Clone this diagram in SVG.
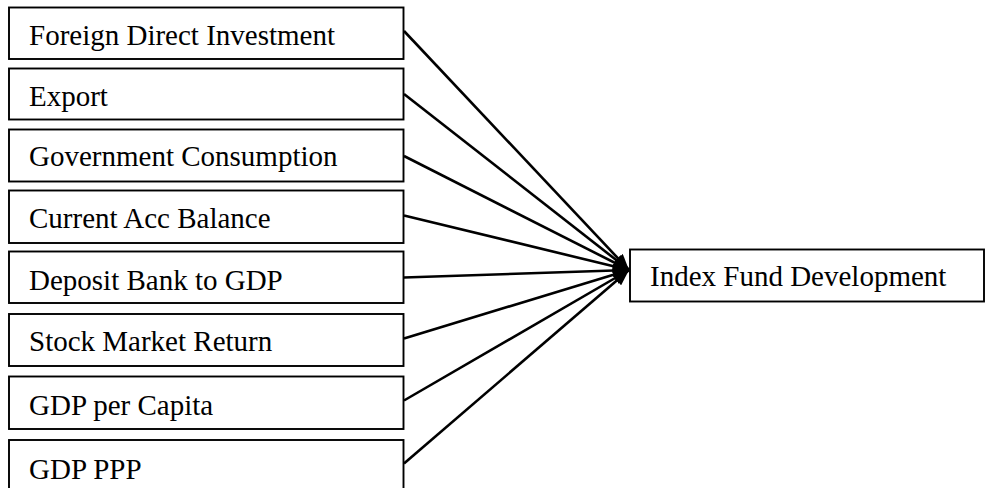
<svg xmlns="http://www.w3.org/2000/svg" width="987" height="488" viewBox="0 0 987 488">
<style>
.box{fill:#fff;stroke:#000;stroke-width:1.9}
.lbl{font-family:"Liberation Serif","Times New Roman",serif;font-size:29px;fill:#000}
.conn{stroke:#000;stroke-width:2.6;fill:none}
</style>
<defs>
<marker id="ah" markerUnits="userSpaceOnUse" markerWidth="17" markerHeight="13" refX="16" refY="6.5" orient="auto">
<path d="M0,0 L16,6.5 L0,13 z" fill="#000"/>
</marker>
</defs>
<rect width="987" height="488" fill="#fff"/>
<g id="connectors">
<line class="conn" x1="404" y1="31" x2="629" y2="270" marker-end="url(#ah)"/>
<line class="conn" x1="404" y1="94" x2="629" y2="270" marker-end="url(#ah)"/>
<line class="conn" x1="404" y1="156" x2="629" y2="270" marker-end="url(#ah)"/>
<line class="conn" x1="404" y1="215.5" x2="629" y2="270" marker-end="url(#ah)"/>
<line class="conn" x1="404" y1="277.5" x2="629" y2="270" marker-end="url(#ah)"/>
<line class="conn" x1="404" y1="338.5" x2="629" y2="270" marker-end="url(#ah)"/>
<line class="conn" x1="404" y1="400.5" x2="629" y2="270" marker-end="url(#ah)"/>
<line class="conn" x1="404" y1="463.5" x2="629" y2="270" marker-end="url(#ah)"/>
</g>
<g id="n1"><rect class="box" x="9" y="7.5" width="394.5" height="51.5"/><text class="lbl" x="29" y="45">Foreign Direct Investment</text></g>
<g id="n2"><rect class="box" x="9" y="68.5" width="394.5" height="51"/><text class="lbl" x="29" y="106">Export</text></g>
<g id="n3"><rect class="box" x="9" y="129.5" width="394.5" height="52"/><text class="lbl" x="29" y="166">Government Consumption</text></g>
<g id="n4"><rect class="box" x="9" y="190.5" width="394.5" height="52.5"/><text class="lbl" x="29" y="227.5">Current Acc Balance</text></g>
<g id="n5"><rect class="box" x="9" y="251.5" width="394.5" height="51.5"/><text class="lbl" x="29" y="289.5">Deposit Bank to GDP</text></g>
<g id="n6"><rect class="box" x="9" y="314" width="394.5" height="52"/><text class="lbl" x="29" y="351">Stock Market Return</text></g>
<g id="n7"><rect class="box" x="9" y="376.5" width="394.5" height="52.5"/><text class="lbl" x="29" y="415">GDP per Capita</text></g>
<g id="n8"><rect class="box" x="9" y="440" width="394.5" height="60"/><text class="lbl" x="29" y="478.5">GDP PPP</text></g>
<g id="n9"><rect class="box" x="630" y="249.5" width="354" height="52"/><text class="lbl" x="650" y="285.5">Index Fund Development</text></g>
</svg>
